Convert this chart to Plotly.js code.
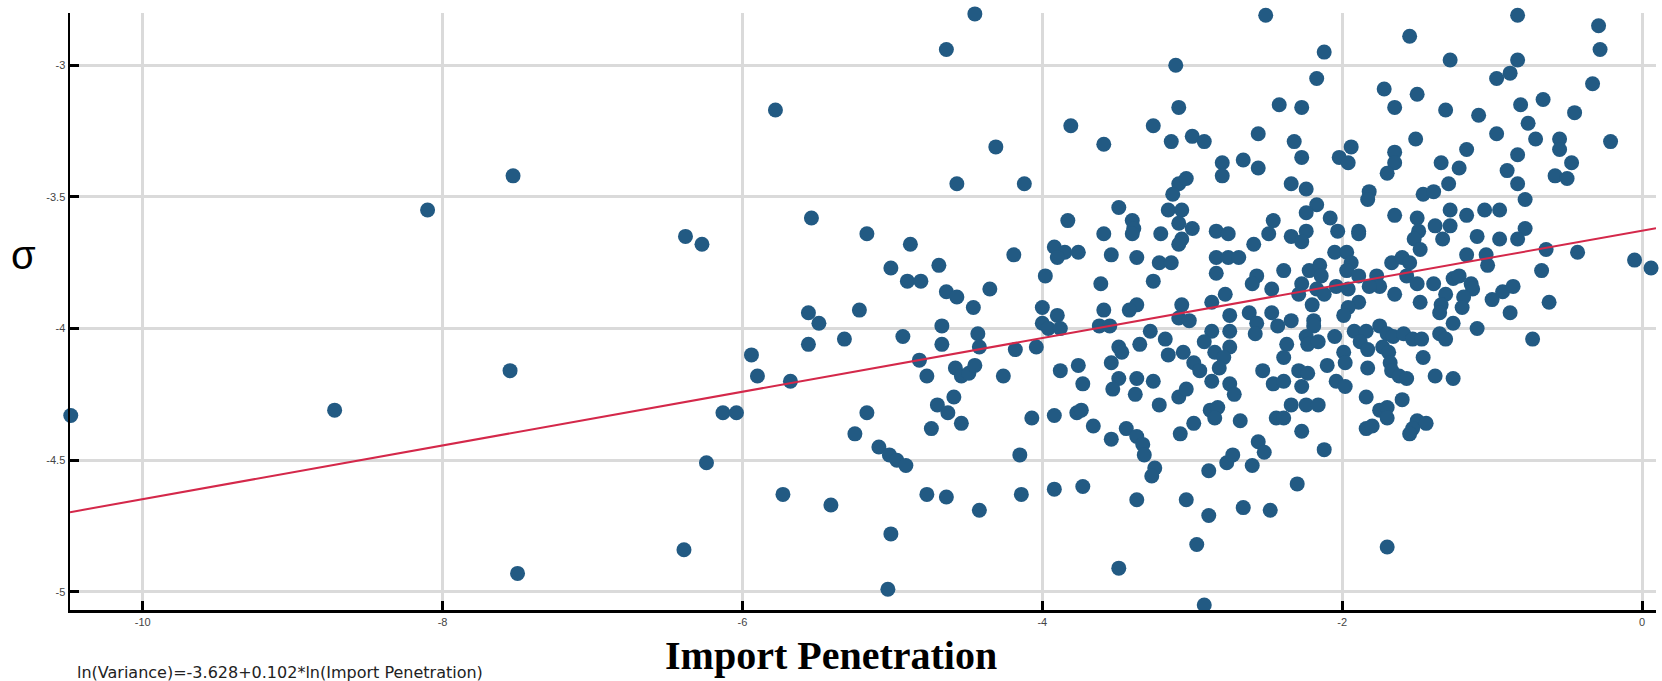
<!DOCTYPE html>
<html>
<head>
<meta charset="utf-8">
<script src="https://cdn.plot.ly/plotly-3.0.1.min.js"></script>
<style>
  html, body { margin: 0; padding: 0; background: #ffffff; }
  #chart { width: 1662px; height: 681px; }
</style>
</head>
<body>
<div id="chart"></div>
<script>
// ---- Data: [ln(Import Penetration), ln(sigma)] pairs, grouped by region of the plot ----
const farLeftPoints = [
  [-10.48,-4.33], [-8.72,-4.31], [-8.10,-3.55], [-7.53,-3.42], [-7.55,-4.16], [-7.50,-4.93],
  [-6.38,-3.65], [-6.27,-3.68], [-6.24,-4.51], [-6.39,-4.84], [-6.13,-4.32], [-6.04,-4.32]
];
const leftUpperPoints = [
  [-5.78,-3.17], [-5.54,-3.58], [-5.17,-3.64], [-4.88,-3.68], [-5.01,-3.77], [-4.69,-3.76],
  [-4.90,-3.82], [-4.81,-3.82]
];
const leftLowerPoints = [
  [-5.56,-3.94], [-5.49,-3.98], [-5.22,-3.93], [-4.67,-3.99], [-5.56,-4.06], [-5.32,-4.04],
  [-4.93,-4.03], [-4.67,-4.06], [-5.94,-4.10], [-5.90,-4.18], [-5.68,-4.20], [-4.82,-4.12],
  [-4.77,-4.18], [-5.17,-4.32], [-4.70,-4.29], [-5.25,-4.40], [-4.74,-4.38], [-5.09,-4.45],
  [-5.02,-4.48], [-4.97,-4.50], [-4.91,-4.52], [-5.73,-4.63], [-5.41,-4.67], [-4.77,-4.63],
  [-5.01,-4.78], [-5.03,-4.99]
];
const midLeftUpperPoints = [
  [-4.45,-2.805], [-4.64,-2.94], [-3.11,-3.00], [-3.09,-3.16], [-3.81,-3.23], [-3.26,-3.23],
  [-3.59,-3.30], [-3.14,-3.29], [-4.31,-3.31], [-4.57,-3.45], [-4.12,-3.45], [-3.09,-3.45],
  [-3.13,-3.49], [-3.49,-3.54], [-3.16,-3.55], [-3.07,-3.55], [-3.40,-3.59], [-3.83,-3.59],
  [-3.39,-3.62], [-3.40,-3.64], [-3.09,-3.60], [-3.59,-3.64], [-3.21,-3.64], [-3.07,-3.66],
  [-3.09,-3.68], [-3.92,-3.69], [-3.85,-3.71], [-3.76,-3.71], [-3.90,-3.73], [-4.19,-3.72],
  [-3.54,-3.72], [-3.37,-3.73], [-3.22,-3.75], [-3.14,-3.75], [-3.98,-3.80], [-3.61,-3.83],
  [-3.26,-3.82], [-4.35,-3.85], [-4.64,-3.86], [-4.57,-3.88], [-4.46,-3.92], [-4.00,-3.92],
  [-3.37,-3.91], [-3.07,-3.91]
];
const midLeftLowerPoints = [
  [-3.90,-3.95], [-3.59,-3.93], [-3.42,-3.93], [-3.09,-3.96], [-4.00,-3.98], [-3.96,-4.00],
  [-3.88,-4.00], [-3.62,-3.99], [-3.55,-3.99], [-3.28,-4.01], [-4.43,-4.02], [-4.42,-4.07],
  [-4.18,-4.08], [-4.04,-4.07], [-3.49,-4.07], [-3.47,-4.09], [-3.35,-4.06], [-3.18,-4.04],
  [-3.16,-4.10], [-3.06,-4.09], [-4.58,-4.15], [-4.54,-4.18], [-4.49,-4.17], [-4.45,-4.14],
  [-4.26,-4.18], [-3.88,-4.16], [-3.76,-4.14], [-3.73,-4.21], [-3.54,-4.13], [-3.49,-4.19],
  [-3.53,-4.23], [-3.37,-4.19], [-3.26,-4.20], [-3.38,-4.25], [-3.22,-4.29], [-3.09,-4.26],
  [-4.59,-4.26], [-4.63,-4.32], [-4.54,-4.36], [-4.07,-4.34], [-3.92,-4.33], [-3.77,-4.32],
  [-3.74,-4.31], [-3.66,-4.37], [-3.54,-4.42], [-3.44,-4.38], [-3.37,-4.41], [-3.33,-4.44],
  [-3.32,-4.48], [-3.25,-4.53], [-3.27,-4.56], [-3.08,-4.40], [-4.15,-4.48], [-4.64,-4.64],
  [-4.42,-4.69], [-4.14,-4.63], [-3.92,-4.61], [-3.73,-4.60], [-3.37,-4.65], [-3.49,-4.91]
];
const midRightUpperPoints = [
  [-2.51,-2.81], [-1.55,-2.89], [-2.12,-2.95], [-2.17,-3.05], [-2.42,-3.15], [-2.27,-3.16],
  [-1.72,-3.09], [-1.50,-3.11], [-1.65,-3.16], [-3.00,-3.27], [-2.92,-3.29], [-2.56,-3.26],
  [-2.32,-3.29], [-2.27,-3.35], [-2.66,-3.36], [-2.80,-3.37], [-2.80,-3.42], [-2.56,-3.39],
  [-1.94,-3.31], [-2.02,-3.35], [-1.96,-3.37], [-1.51,-3.28], [-1.65,-3.33], [-1.65,-3.37],
  [-1.70,-3.41], [-3.04,-3.43], [-2.34,-3.45], [-2.24,-3.47], [-2.17,-3.53], [-2.24,-3.56],
  [-2.08,-3.58], [-2.03,-3.63], [-1.82,-3.48], [-1.83,-3.51], [-1.65,-3.57], [-1.46,-3.49],
  [-1.50,-3.58], [-1.49,-3.63], [-3.00,-3.62], [-2.84,-3.63], [-2.76,-3.64], [-2.46,-3.59],
  [-2.49,-3.64], [-2.34,-3.65], [-2.24,-3.63], [-2.27,-3.67], [-2.59,-3.68], [-1.89,-3.63],
  [-1.89,-3.64], [-1.52,-3.66], [-1.48,-3.70], [-2.84,-3.73], [-2.76,-3.73], [-2.69,-3.73],
  [-2.84,-3.79], [-2.39,-3.78], [-2.22,-3.78], [-2.15,-3.76], [-2.14,-3.80], [-2.05,-3.71],
  [-1.97,-3.71], [-1.94,-3.75], [-1.97,-3.78], [-1.89,-3.80], [-2.57,-3.80], [-2.60,-3.83],
  [-2.47,-3.85], [-2.27,-3.83], [-2.29,-3.87], [-2.17,-3.85], [-2.12,-3.87], [-2.04,-3.84],
  [-1.96,-3.85], [-1.89,-3.90], [-1.77,-3.80], [-1.75,-3.84], [-1.82,-3.84], [-1.67,-3.75],
  [-1.60,-3.73], [-1.55,-3.75], [-1.57,-3.80], [-1.50,-3.83], [-1.65,-3.87], [-1.48,-3.90],
  [-2.87,-3.90], [-2.78,-3.87], [-2.20,-3.91], [-1.96,-3.92]
];
const midRightLowerPoints = [
  [-3.02,-3.97], [-2.75,-3.95], [-2.62,-3.94], [-2.57,-3.98], [-2.58,-4.02], [-2.47,-3.94],
  [-2.43,-3.99], [-2.34,-3.97], [-2.19,-3.97], [-2.19,-3.99], [-1.99,-3.95], [-2.87,-4.01],
  [-2.75,-4.01], [-2.92,-4.05], [-2.75,-4.07], [-2.85,-4.09], [-2.79,-4.11], [-2.99,-4.13],
  [-2.95,-4.16], [-2.82,-4.15], [-2.87,-4.20], [-3.04,-4.23], [-2.75,-4.21], [-2.72,-4.25],
  [-2.53,-4.16], [-2.37,-4.06], [-2.39,-4.11], [-2.24,-4.03], [-2.23,-4.06], [-2.16,-4.05],
  [-2.05,-4.03], [-1.99,-4.09], [-1.98,-4.13], [-2.10,-4.14], [-2.04,-4.20], [-1.98,-4.22],
  [-2.46,-4.21], [-2.39,-4.20], [-2.29,-4.16], [-2.23,-4.17], [-2.27,-4.22], [-2.34,-4.29],
  [-2.24,-4.29], [-2.16,-4.29], [-2.44,-4.34], [-2.39,-4.34], [-2.27,-4.39], [-2.12,-4.46],
  [-2.68,-4.35], [-2.88,-4.31], [-2.83,-4.30], [-2.85,-4.34], [-2.99,-4.36], [-2.56,-4.43],
  [-2.52,-4.47], [-2.77,-4.51], [-2.73,-4.48], [-2.60,-4.52], [-2.89,-4.54], [-2.30,-4.59],
  [-3.04,-4.65], [-2.89,-4.71], [-2.66,-4.68], [-2.48,-4.69], [-2.97,-4.82], [-2.92,-5.05],
  [-1.70,-4.83], [-1.92,-4.01], [-1.84,-4.01], [-1.75,-3.99], [-1.70,-4.02], [-1.66,-4.03],
  [-1.59,-4.02], [-1.53,-4.04], [-1.88,-4.05], [-1.83,-4.08], [-1.73,-4.07], [-1.69,-4.09],
  [-1.68,-4.13], [-1.67,-4.16], [-1.62,-4.18], [-1.57,-4.19], [-1.46,-4.11], [-1.83,-4.15],
  [-1.84,-4.26], [-1.60,-4.27], [-1.75,-4.31], [-1.70,-4.30], [-1.70,-4.34], [-1.84,-4.38],
  [-1.80,-4.37], [-1.50,-4.35], [-1.53,-4.38], [-1.55,-4.40]
];
const rightUpperPoints = [
  [-0.83,-2.81], [-0.29,-2.85], [-0.28,-2.94], [-1.28,-2.98], [-0.83,-2.98], [-0.97,-3.05],
  [-0.88,-3.03], [-0.33,-3.07], [-1.31,-3.17], [-1.09,-3.19], [-0.81,-3.15], [-0.66,-3.13],
  [-0.45,-3.18], [-0.76,-3.22], [-0.97,-3.26], [-0.71,-3.28], [-0.55,-3.28], [-0.55,-3.32],
  [-0.21,-3.29], [-1.17,-3.32], [-0.83,-3.34], [-1.34,-3.37], [-1.22,-3.39], [-0.90,-3.40],
  [-0.47,-3.37], [-0.58,-3.42], [-0.50,-3.43], [-1.29,-3.45], [-0.83,-3.45], [-1.39,-3.48],
  [-0.78,-3.51], [-1.28,-3.55], [-1.17,-3.57], [-1.05,-3.55], [-0.95,-3.55], [-1.38,-3.61],
  [-1.28,-3.61], [-0.78,-3.62], [-1.33,-3.66], [-1.10,-3.65], [-0.95,-3.66], [-0.83,-3.66],
  [-1.17,-3.72], [-1.04,-3.72], [-1.03,-3.76], [-0.64,-3.70], [-0.43,-3.71], [-0.05,-3.74],
  [0.06,-3.77], [-0.67,-3.78], [-1.39,-3.83], [-1.26,-3.81], [-1.22,-3.80], [-1.14,-3.83],
  [-1.13,-3.85], [-1.31,-3.87], [-1.19,-3.88], [-0.93,-3.86], [-0.86,-3.84], [-1.00,-3.89],
  [-0.62,-3.90], [-1.34,-3.91], [-1.20,-3.92]
];
const rightLowerPoints = [
  [-0.88,-3.94], [-1.35,-3.94], [-1.26,-3.98], [-1.10,-4.00], [-1.35,-4.02], [-1.31,-4.04],
  [-0.73,-4.04], [-1.47,-4.04], [-1.38,-4.18], [-1.26,-4.19], [-1.44,-4.36]
];

// Fitted regression: ln(Variance) = intercept + slope * ln(Import Penetration)
const regIntercept = -3.628;
const regSlope = 0.102;
const equationLabel = "ln(Variance)=-3.628+0.102*ln(Import Penetration)";

const xAxisTicks = [-10, -8, -6, -4, -2, 0];
const yAxisTicks = [-5, -4.5, -4, -3.5, -3];
const xAxisTitle = "Import Penetration";
const yAxisTitle = "σ";
const xRange = [-10.485, 0.093];
const yRange = [-5.069, -2.8015];

// ---- Build traces ----
const allPoints = [].concat(farLeftPoints, leftUpperPoints, leftLowerPoints,
  midLeftUpperPoints, midLeftLowerPoints, midRightUpperPoints, midRightLowerPoints,
  rightUpperPoints, rightLowerPoints);
const xs = allPoints.map(p => p[0]);
const ys = allPoints.map(p => p[1]);

const lineX = [xRange[0], xRange[1]];
const lineY = lineX.map(x => regIntercept + regSlope * x);

const scatter = {
  x: xs, y: ys, type: 'scatter', mode: 'markers', cliponaxis: false,
  marker: { color: '#225a83', size: 15, line: { width: 0 } },
  hoverinfo: 'skip', showlegend: false
};
const fit = {
  x: lineX, y: lineY, type: 'scatter', mode: 'lines',
  line: { color: '#d4284a', width: 2 },
  hoverinfo: 'skip', showlegend: false
};

const axisCommon = {
  showline: true, linecolor: '#000000', linewidth: 2.5,
  ticks: 'inside', ticklen: 9, tickwidth: 3, tickcolor: '#000000',
  showgrid: true, gridcolor: '#dadada', gridwidth: 3,
  zeroline: false, fixedrange: true, layer: 'above traces',
  tickfont: { family: 'Liberation Sans, Arial, sans-serif', size: 11, color: '#444444' }
};

const layout = {
  width: 1662, height: 681,
  margin: { l: 70, r: 6, t: 13, b: 71, pad: 0 },
  paper_bgcolor: '#ffffff', plot_bgcolor: '#ffffff',
  xaxis: Object.assign({}, axisCommon, {
    range: xRange, tickmode: 'array', tickvals: xAxisTicks,
    ticktext: xAxisTicks.map(String)
  }),
  yaxis: Object.assign({}, axisCommon, {
    range: yRange, tickmode: 'array', tickvals: yAxisTicks,
    ticktext: yAxisTicks.map(String)
  }),
  annotations: [
    { text: xAxisTitle, xref: 'paper', yref: 'paper', x: 0.4798, y: -0.0754,
      xanchor: 'center', yanchor: 'middle', showarrow: false,
      font: { family: 'Liberation Serif, Times New Roman, serif', size: 40, color: '#000000', weight: 'bold' } },
    { text: yAxisTitle, xref: 'paper', yref: 'paper', x: -0.0296, y: 0.5946,
      xanchor: 'center', yanchor: 'middle', showarrow: false,
      font: { family: 'Liberation Sans, Arial, sans-serif', size: 40, color: '#000000' } },
    { text: equationLabel, xref: 'paper', yref: 'paper', x: 0.003, y: -0.1039,
      xanchor: 'left', yanchor: 'middle', showarrow: false,
      font: { family: 'DejaVu Sans, sans-serif', size: 16, color: '#222222' } }
  ]
};

Plotly.newPlot('chart', [scatter, fit], layout, { displayModeBar: false, staticPlot: true });
</script>
</body>
</html>
